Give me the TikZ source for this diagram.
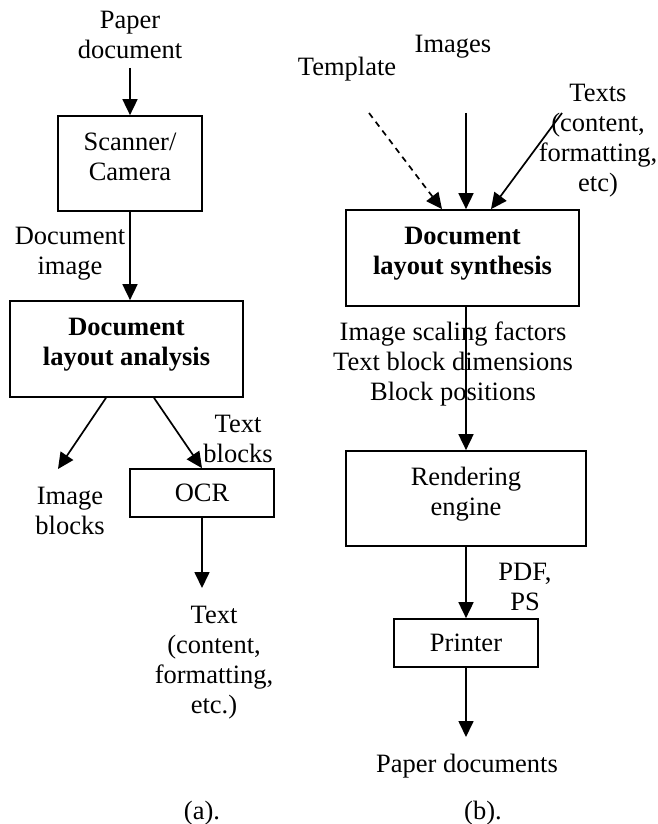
\documentclass[tikz,border=0pt]{standalone}
\usepackage{fontspec}
\setmainfont{Liberation Serif}
\usepackage{tikz}
\usetikzlibrary{arrows.meta,positioning}

\begin{document}
\begin{tikzpicture}[
    x=1pt, y=-1pt,
    font=\fontsize{26.5}{30}\selectfont,
    box/.style={rectangle, draw, line width=1.7pt, minimum width=233pt, minimum height=96pt, align=center, inner sep=0pt, text height=45pt, text depth=12pt},
    smallbox/.style={rectangle, draw, line width=1.7pt, minimum width=144pt, minimum height=48pt, align=center, inner sep=0pt},
    lbl/.style={align=center, inner sep=0pt, anchor=base},
    arrow/.style={-{Triangle[length=16pt, width=15pt]}, line width=1.7pt}
]
    \useasboundingbox (0,0) rectangle (658,824);

    % (a) analysis
    \node[lbl] (paper) at (130,59) {Paper\\document};
    \node[box, minimum width=144pt, minimum height=95pt] (scanner) at (130,163.5) {Scanner/\\Camera};
    \node[lbl] (docimg) at (70,274) {Document\\image};
    \node[box] (dla) at (126.5,349) {\textbf{Document}\\\textbf{layout analysis}};
    \node[lbl] (txtblk) at (238,462) {Text\\blocks};
    \node[smallbox] (ocr) at (202,493) {OCR};
    \node[lbl] (imgblk) at (70,534) {Image\\blocks};
    \node[lbl] (textout) at (214,713) {Text\\(content,\\formatting,\\etc.)};
    \node[lbl] (capa) at (202,819) {(a).};

    \coordinate (papend) at (130,68);
    \coordinate (imgend) at (58,469);
    \coordinate (textend) at (202,588);

    \draw[arrow] (papend) -- (scanner.north);
    \draw[arrow] (scanner.south) -- (dla.north -| scanner.south);
    \draw[arrow] (dla.south -| 106,0) -- (imgend);
    \draw[arrow] (dla.south -| 154,0) -- (ocr.north);
    \draw[arrow] (ocr.south) -- (textend);

    % (b) synthesis
    \node[lbl] (images) at (453,53) {Images};
    \node[lbl] (template) at (347,76) {Template};
    \node[lbl] (texts) at (598,191) {Texts\\(content,\\formatting,\\etc)};
    \node[box] (dls) at (462.5,258) {\textbf{Document}\\\textbf{layout synthesis}};
    \node[lbl] (params) at (453,400) {Image scaling factors\\Text block dimensions\\Block positions};
    \node[box, minimum width=240pt, minimum height=95pt] (render) at (466,498.5) {Rendering\\engine};
    \node[lbl] (pdf) at (525,610) {PDF,\\PS};
    \node[smallbox] (printer) at (466,643) {Printer};
    \node[lbl] (paperout) at (467,772) {Paper documents};
    \node[lbl] (capb) at (483,819) {(b).};

    \coordinate (tplstart) at (369,113);
    \coordinate (imgstart) at (466,113);
    \coordinate (txtstart) at (562,113);
    \coordinate (docend) at (466,737);

    \draw[arrow, dash pattern=on 6pt off 5pt] (tplstart) -- (dls.north -| 442,0);
    \draw[arrow] (imgstart) -- (dls.north -| imgstart);
    \draw[arrow] (txtstart) -- (dls.north -| 491,0);
    \draw[arrow] (dls.south -| render.north) -- (render.north);
    \draw[arrow] (render.south) -- (printer.north);
    \draw[arrow] (printer.south) -- (docend);

\end{tikzpicture}
\end{document}
